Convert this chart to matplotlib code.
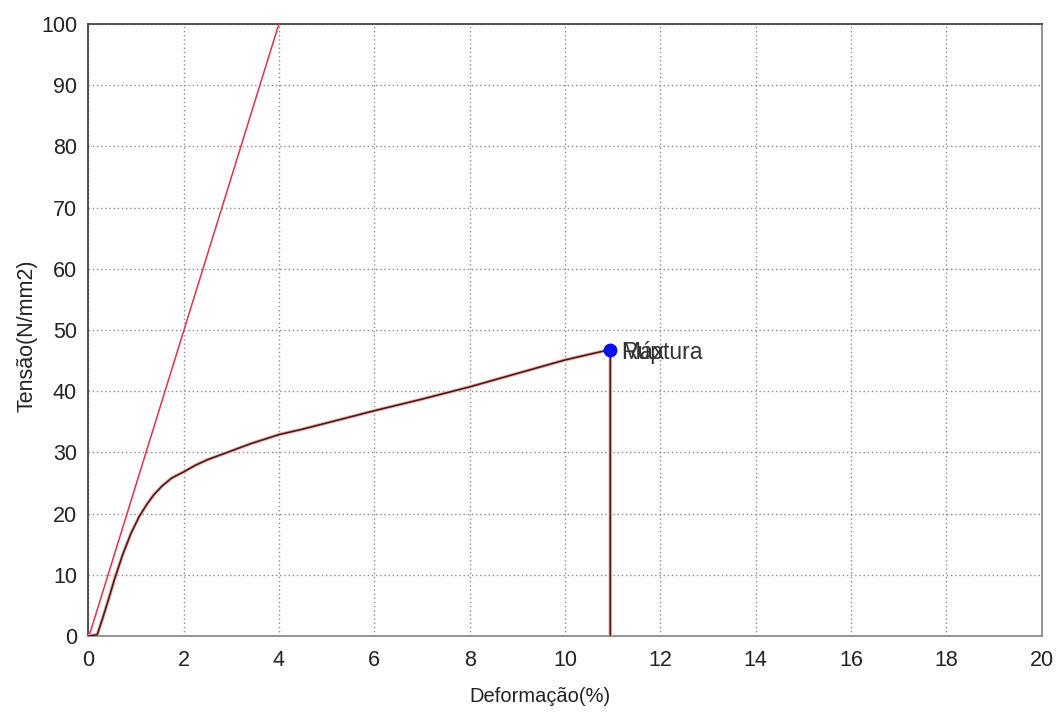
import matplotlib
matplotlib.use('Agg')
import matplotlib.pyplot as plt

# curva tensão x deformação
deformacao = [0.0, 0.19, 0.30, 0.42, 0.55, 0.72, 0.90, 1.07, 1.23, 1.38, 1.55,
              1.75, 2.0, 2.25, 2.5, 2.92, 3.4, 4.0, 4.5, 5.0, 5.5, 6.0, 7.0,
              8.0, 9.0, 10.0, 10.5, 10.95, 10.95]
tensao = [0.0, 0.2, 2.8, 5.8, 9.2, 13.2, 16.8, 19.5, 21.5, 23.1, 24.5,
          25.8, 26.8, 27.9, 28.8, 30.0, 31.4, 32.9, 33.8, 34.8, 35.8, 36.8, 38.7,
          40.7, 42.9, 45.1, 46.0, 46.8, 0.0]

# reta do módulo
modulo_x = [0.02, 4.0]
modulo_y = [0.0, 100.0]

# ponto máximo / ruptura
ponto_x = 10.95
ponto_y = 46.8
rotulos = ['Máx', 'Ruptura']

plt.rcParams['font.family'] = ['Liberation Sans', 'DejaVu Sans']

fig = plt.figure(figsize=(10.62, 7.15), dpi=100)
ax = fig.add_axes([0.083, 0.1105, 0.898, 0.856])

ax.plot(modulo_x, modulo_y, color='#e0304a', lw=1.1, zorder=3)
ax.plot(deformacao, tensao, color='#f0b4b4', lw=2.6, zorder=3,
        solid_joinstyle='round')
ax.plot(deformacao, tensao, color='#4a1a1a', lw=1.2, zorder=4,
        solid_joinstyle='round')
ax.plot([ponto_x], [ponto_y], 'o', color='#0010ee', ms=9, zorder=5)
for r in rotulos:
    ax.text(ponto_x + 0.22, ponto_y - 0.4, r, fontsize=16.5, color='#333333',
            va='center', ha='left', zorder=6)

ax.set_xlim(0, 20)
ax.set_ylim(0, 100)
ax.set_xticks(range(0, 21, 2))
ax.set_yticks(range(0, 101, 10))
ax.grid(True, linestyle=(0, (1, 2)), color='#8a8a8a', lw=1.0)
ax.tick_params(length=0, labelsize=15.5, colors='#222222', pad=8)
ax.tick_params(axis='x', pad=10)

for s in ['left', 'top']:
    ax.spines[s].set_color('#444444')
    ax.spines[s].set_linewidth(1.3)
for s in ['right', 'bottom']:
    ax.spines[s].set_color('#8c8c8c')
    ax.spines[s].set_linewidth(1.3)

ax.set_xlabel('Deformação(%)', fontsize=14.5, color='#222222')
ax.set_ylabel('Tensão(N/mm2)', fontsize=15.5, color='#222222')
ax.xaxis.set_label_coords(0.474, -0.083)
ax.yaxis.set_label_coords(-0.053, 0.49)

fig.savefig('out.png', dpi=100)
